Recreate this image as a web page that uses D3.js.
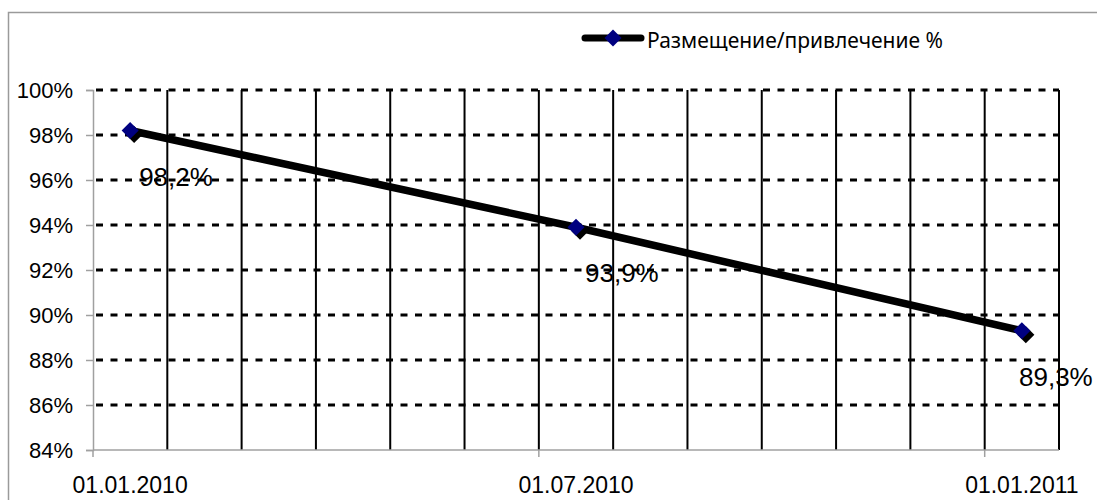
<!DOCTYPE html>
<html>
<head>
<meta charset="utf-8">
<script src="https://cdn.jsdelivr.net/npm/d3@7"></script>
<style>
  html, body { margin: 0; padding: 0; background: #fff; }
  svg { display: block; }
</style>
</head>
<body>
<svg id="chart" width="1097" height="500"></svg>
<script>
// Monthly slots on the date axis (Jan 2010 .. Jan 2011)
const months = ["01.01.2010","01.02.2010","01.03.2010","01.04.2010","01.05.2010","01.06.2010",
                "01.07.2010","01.08.2010","01.09.2010","01.10.2010","01.11.2010","01.12.2010","01.01.2011"];
// Reported dates and ratio values (%)
const dates = ["01.01.2010", "01.07.2010", "01.01.2011"];
const values = [98.2, 93.9, 89.3];
const valueLabels = ["98,2%", "93,9%", "89,3%"];
// Axis tick labels
const xTickLabels = ["01.01.2010", "01.07.2010", "01.01.2011"];
const yTicks = [84, 86, 88, 90, 92, 94, 96, 98, 100];
const seriesName = "Размещение/привлечение %";

const svg = d3.select("#chart");
const plot = { left: 93, right: 1059, top: 90, bottom: 450 };

// outer frame
svg.append("rect")
  .attr("x", 8.5).attr("y", 12.5).attr("width", 1100).attr("height", 500)
  .attr("fill", "#fff").attr("stroke", "#9a9a9a").attr("stroke-width", 1.5);

const x = d3.scaleBand().domain(months).range([plot.left, plot.right]).padding(0);
const y = d3.scaleLinear().domain([84, 100]).range([plot.bottom, plot.top]);
const cx = d => x(d) + x.bandwidth() / 2;

// vertical month gridlines (solid), at the right edge of every month slot
svg.append("g").selectAll("line")
  .data(months)
  .join("line")
  .attr("x1", d => x(d) + x.bandwidth())
  .attr("x2", d => x(d) + x.bandwidth())
  .attr("y1", plot.top).attr("y2", plot.bottom)
  .attr("stroke", "#000").attr("stroke-width", 2);

// horizontal value gridlines (dashed)
svg.append("g").selectAll("line")
  .data(yTicks.filter(t => t > 84))
  .join("line")
  .attr("x1", plot.left + 3).attr("x2", plot.right)
  .attr("y1", d => y(d)).attr("y2", d => y(d))
  .attr("stroke", "#000").attr("stroke-width", 3)
  .attr("stroke-dasharray", "7,7.5");

// y axis
const yAxis = svg.append("g")
  .attr("transform", `translate(${plot.left},0)`)
  .call(d3.axisLeft(y).tickValues(yTicks).tickSize(7).tickPadding(13)
        .tickFormat(d => d + "%"));
yAxis.select(".domain").attr("stroke", "#a0a0a0").attr("stroke-width", 1.5);
yAxis.selectAll(".tick line").attr("stroke", "#a0a0a0").attr("stroke-width", 1.5);
yAxis.selectAll(".tick text")
  .attr("font-family", "'Liberation Sans', Arial, sans-serif")
  .attr("font-size", 22).attr("fill", "#000").attr("dy", "0.36em");

// x axis line and major ticks every six months
svg.append("line")
  .attr("x1", plot.left).attr("x2", plot.right)
  .attr("y1", plot.bottom).attr("y2", plot.bottom)
  .attr("stroke", "#a0a0a0").attr("stroke-width", 1.5);
svg.append("g").selectAll("line")
  .data(xTickLabels)
  .join("line")
  .attr("x1", d => x(d)).attr("x2", d => x(d))
  .attr("y1", plot.bottom).attr("y2", plot.bottom + 7)
  .attr("stroke", "#a0a0a0").attr("stroke-width", 1.5);
svg.append("g").selectAll("text")
  .data(xTickLabels)
  .join("text")
  .attr("x", d => cx(d)).attr("y", 493)
  .attr("text-anchor", "middle")
  .attr("font-family", "'Liberation Sans', Arial, sans-serif")
  .attr("font-size", 23).attr("fill", "#000")
  .text(d => d);

// series line
const pts = dates.map((d, i) => [cx(d), y(values[i])]);
svg.append("path")
  .attr("d", d3.line()(pts))
  .attr("fill", "none").attr("stroke", "#000").attr("stroke-width", 7.5)
  .attr("stroke-linejoin", "round");

// diamond markers with a dark drop shadow
const diamond = d3.symbol().type(d3.symbolDiamond2).size(185);
const mk = svg.append("g");
pts.forEach(p => {
  mk.append("path").attr("d", diamond())
    .attr("transform", `translate(${p[0] + 4},${p[1] + 4})`)
    .attr("fill", "#000");
  mk.append("path").attr("d", diamond())
    .attr("transform", `translate(${p[0]},${p[1]})`)
    .attr("fill", "#000080");
});

// data labels
svg.append("g").selectAll("text")
  .data(dates)
  .join("text")
  .attr("x", (d, i) => Math.min(pts[i][0] + 9, 1019))
  .attr("y", (d, i) => pts[i][1] + 55)
  .attr("font-family", "'Liberation Sans', Arial, sans-serif")
  .attr("font-size", 26).attr("fill", "#000")
  .text((d, i) => valueLabels[i]);

// legend
const lg = svg.append("g");
lg.append("line")
  .attr("x1", 585).attr("x2", 641).attr("y1", 38).attr("y2", 38)
  .attr("stroke", "#000").attr("stroke-width", 7).attr("stroke-linecap", "round");
lg.append("path").attr("d", diamond())
  .attr("transform", "translate(613,38)").attr("fill", "#000080");
lg.append("text")
  .attr("x", 647).attr("y", 48)
  .attr("font-family", "'Noto Sans', 'Open Sans', sans-serif")
  .attr("font-size", 21).attr("fill", "#000")
  .attr("textLength", 296).attr("lengthAdjust", "spacingAndGlyphs")
  .text(seriesName);
</script>
</body>
</html>
